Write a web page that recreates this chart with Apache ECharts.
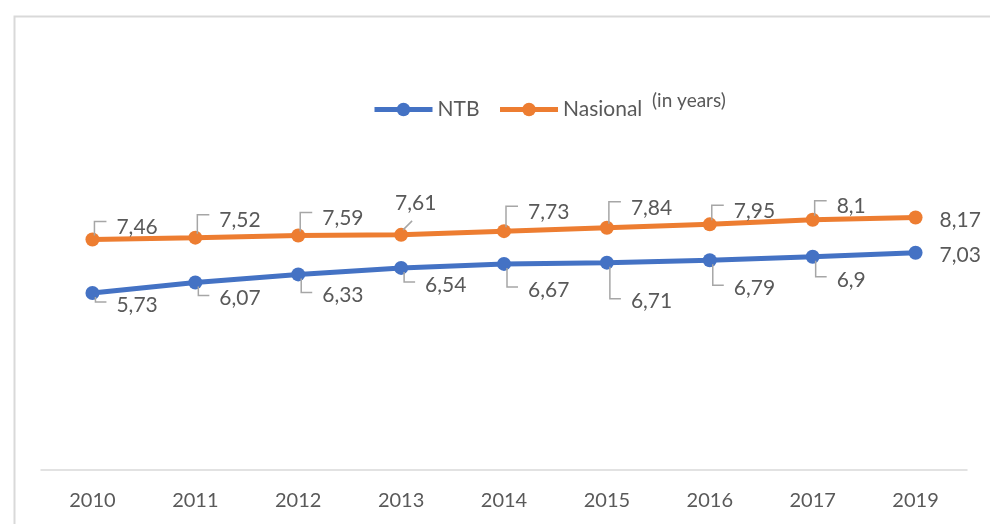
<!DOCTYPE html>
<html>
<head>
<meta charset="utf-8">
<script src="https://cdn.jsdelivr.net/npm/echarts@6/dist/echarts.min.js"></script>
<style>html,body{margin:0;padding:0;background:#fff;}#c{width:990px;height:524px;}</style>
</head>
<body>
<div id="c"></div>
<script>
var years = ['2010','2011','2012','2013','2014','2015','2016','2017','2019'];
var ntb = [5.73, 6.07, 6.33, 6.54, 6.67, 6.71, 6.79, 6.9, 7.03];
var nasional = [7.46, 7.52, 7.59, 7.61, 7.73, 7.84, 7.95, 8.1, 8.17];
var unitNote = '(in years)';

// label placement (vertical offset of label centre from point, px)
var ntbDy = [12, 16, 21, 17, 26, 39, 28, 23, 2];
var nasDy = [-12, -17, -17, -32, -19, -20, -13, -13, 3];

var FONT = 'Lato';
var TXT = '#595959';
var BLUE = '#4472C4';
var ORANGE = '#ED7D31';

function fmt(v){ return String(v).replace('.', ','); }

function leaderSeries(name, values, dys, isTop) {
  return {
    type: 'custom',
    name: name + '_labels',
    coordinateSystem: 'cartesian2d',
    silent: true,
    z: 10,
    data: values.map(function(v, i){ return [i, v]; }),
    renderItem: function(params, api) {
      var i = params.dataIndex;
      var p = api.coord([api.value(0), api.value(1)]);
      var px = p[0], py = p[1];
      var dy = dys[i];
      var last = i === values.length - 1;
      var children = [];
      var tx = px + 24, ty = py + dy;
      if (!last) {
        if (isTop && i === 3) {
          tx = px - 6;
          children.push({type:'line', shape:{x1:px+2, y1:py-5, x2:px+11, y2:py-14},
            style:{stroke:'#a6a6a6', lineWidth:1.5}});
        } else if (isTop) {
          var sy = ty - 6;
          children.push({type:'polyline', shape:{points:[[px+2, py-4],[px+2, sy],[px+14, sy]]},
            style:{stroke:'#a6a6a6', lineWidth:1.5, fill:null}});
        } else {
          var sy2 = ty - 3;
          children.push({type:'polyline', shape:{points:[[px+3, py+4],[px+3, sy2],[px+14, sy2]]},
            style:{stroke:'#a6a6a6', lineWidth:1.5, fill:null}});
        }
      }
      children.push({type:'text', style:{text: fmt(values[i]), x: tx, y: ty,
        textAlign:'left', textVerticalAlign:'middle', font: '21px ' + FONT, fill: TXT}});
      return {type:'group', children: children};
    }
  };
}

var chart = echarts.init(document.getElementById('c'));
chart.setOption({
  animation: false,
  backgroundColor: '#fff',
  textStyle: {fontFamily: FONT},
  graphic: [
    {type:'rect', left: 12, top: 14, shape:{width: 1000, height: 600},
     style:{fill:'none', stroke:'#d9d9d9', lineWidth:2}, silent:true},
    {type:'text', left: 652, top: 91, style:{text: unitNote, font:'19px ' + FONT, fill: TXT}}
  ],
  legend: {
    data: ['NTB', 'Nasional'],
    left: 367, top: 94,
    itemWidth: 58, itemHeight: 17, itemGap: 18,
    lineStyle: {width: 5},
    textStyle: {fontSize: 21, color: TXT, fontFamily: FONT}
  },
  grid: {left: 41, right: 23, top: 161, bottom: 54},
  xAxis: {
    type: 'category', data: years, boundaryGap: true,
    axisLine: {lineStyle: {color: '#d9d9d9', width: 1.5}},
    axisTick: {show: false},
    axisLabel: {fontSize: 20, color: TXT, margin: 21, fontFamily: FONT}
  },
  yAxis: {
    type: 'value', min: 0, max: 10, interval: 2,
    show: false, splitLine: {show: false}
  },
  series: [
    {name:'NTB', type:'line', data: ntb, color: BLUE, symbol:'circle', symbolSize: 14,
     lineStyle:{width:5, color: BLUE}, itemStyle:{color: BLUE}, z: 3},
    {name:'Nasional', type:'line', data: nasional, color: ORANGE, symbol:'circle', symbolSize: 14,
     lineStyle:{width:5, color: ORANGE}, itemStyle:{color: ORANGE}, z: 3},
    leaderSeries('NTB', ntb, ntbDy, false),
    leaderSeries('Nasional', nasional, nasDy, true)
  ]
});
</script>
</body>
</html>
